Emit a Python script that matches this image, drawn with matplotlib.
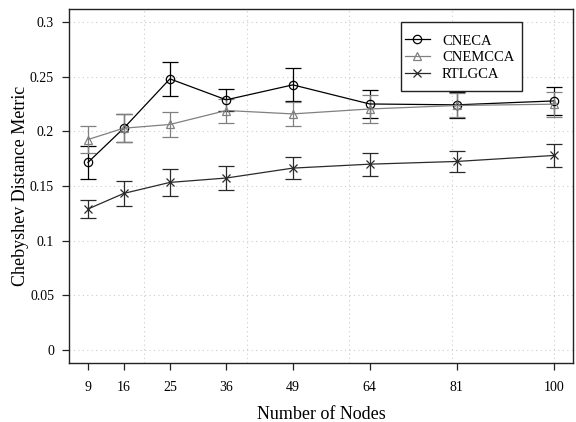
import matplotlib
matplotlib.use("Agg")
import matplotlib.pyplot as plt
from matplotlib.patches import Rectangle

plt.rcParams['font.family'] = ['Liberation Serif', 'DejaVu Serif']

# Network sizes and mean Chebyshev distance (with error half-widths)
nodes = [9, 16, 25, 36, 49, 64, 81, 100]
x_ticklabels = ['9', '16', '25', '36', '49', '64', '81', '100']

cneca = [0.1716, 0.2030, 0.2482, 0.2290, 0.2427, 0.2252, 0.2244, 0.2280]
cneca_err = [0.0155, 0.0130, 0.0158, 0.0102, 0.0151, 0.0130, 0.0120, 0.0125]

cnemcca = [0.1926, 0.2030, 0.2064, 0.2192, 0.2161, 0.2206, 0.2238, 0.2250]
cnemcca_err = [0.0123, 0.0127, 0.0115, 0.0110, 0.0113, 0.0130, 0.0110, 0.0115]

rtlgca = [0.1289, 0.1432, 0.1533, 0.1573, 0.1664, 0.1700, 0.1725, 0.1780]
rtlgca_err = [0.0082, 0.0115, 0.0124, 0.0113, 0.0098, 0.0107, 0.0100, 0.0105]

y_ticks = [0, 0.05, 0.1, 0.15, 0.2, 0.25, 0.3]
y_ticklabels = ['0', '0.05', '0.1', '0.15', '0.2', '0.25', '0.3']
grid_x = [20, 40, 60, 80, 100]

fig = plt.figure(figsize=(5.76, 4.22), dpi=100)
ax = fig.add_axes([0.1203, 0.1405, 0.8740, 0.8375])

# background grid (dotted, light)
for gx in grid_x:
    ax.axvline(gx, color='#cccccc', lw=0.8, ls=(0, (1, 3)), zorder=0)
for gy in y_ticks:
    ax.axhline(gy, color='#cccccc', lw=0.8, ls=(0, (1, 3)), zorder=0)

series = [
    (cneca, cneca_err, 'CNECA', 'o', '#000000'),
    (cnemcca, cnemcca_err, 'CNEMCCA', '^', '#808080'),
    (rtlgca, rtlgca_err, 'RTLGCA', 'x', '#2a2a2a'),
]
handles = []
for vals, errs, name, mk, col in series:
    ax.errorbar(nodes, vals, yerr=errs, fmt='none', ecolor=col,
                elinewidth=0.9, capsize=5.5, capthick=0.9, zorder=2)
    h, = ax.plot(nodes, vals, color=col, lw=0.9, marker=mk,
                 markersize=6 if mk != 'x' else 5.5,
                 markerfacecolor='none', markeredgecolor=col,
                 markeredgewidth=0.9, label=name, zorder=3)
    handles.append(h)

ax.set_xlim(5.36, 103.64)
ax.set_ylim(-0.012, 0.312)
ax.set_xticks(nodes)
ax.set_xticklabels(x_ticklabels)
ax.set_yticks(y_ticks)
ax.set_yticklabels(y_ticklabels)
ax.tick_params(axis='both', direction='out', length=5, width=0.9,
               labelsize=10, color='#222222')
ax.tick_params(axis='x', pad=8)
ax.tick_params(axis='y', pad=6)
for sp in ax.spines.values():
    sp.set_linewidth(1.0)
    sp.set_color('#222222')

ax.set_xlabel('Number of Nodes', fontsize=13, labelpad=9)
ax.set_ylabel('Chebyshev Distance Metric', fontsize=13, labelpad=1)

# legend entries without their own frame; box drawn separately
leg = ax.legend(handles=handles, loc='upper left',
                bbox_to_anchor=(0.6663, 0.929), fontsize=10.5,
                frameon=False, handlelength=1.7, handletextpad=0.85,
                labelspacing=0.25, borderpad=0, borderaxespad=0)
ax.add_patch(Rectangle((0.6583, 0.7688), 0.2410, 0.1961,
                       transform=ax.transAxes, fill=True, facecolor='white',
                       edgecolor='#222222', lw=1.0, zorder=4))
leg.set_zorder(5)

fig.savefig('out.png', dpi=100)
